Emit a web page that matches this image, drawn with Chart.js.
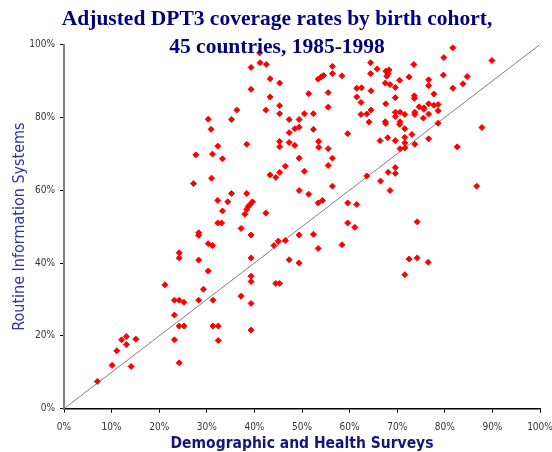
<!DOCTYPE html>
<html>
<head>
<meta charset="utf-8">
<script src="https://cdn.jsdelivr.net/npm/chart.js@4.4.1/dist/chart.umd.min.js"></script>
<style>
  html, body { margin: 0; padding: 0; background: #fff; }
  #wrap { width: 552px; height: 452px; }
</style>
</head>
<body>
<div id="wrap"><canvas id="dptChart" width="552" height="452"></canvas></div>
<script>
// DPT3 coverage per birth cohort: survey estimate (x) vs routine reports (y), in %
const dhsCoverage = [
    24.2, 24.2, 28.3, 30.3, 21.2, 29.3, 23.2, 24.2, 25.2, 28.3, 31.3, 37.2, 23.2, 24.2,
    25.2, 31.3, 32.4, 23.2, 32.4, 24.2, 13.1, 12.1, 15.1, 13.1, 11.1, 10.1, 14.1, 7.0,
    41.1, 39.3, 41.2, 42.5, 43.3, 45.3, 39.3, 43.3, 45.3, 42.4, 45.3, 36.3, 30.3, 35.2,
    30.9, 32.3, 31.2, 27.7, 33.3, 31.0, 27.2, 38.4, 45.3, 45.3, 47.3, 48.5, 47.3, 49.4,
    50.5, 52.4, 47.3, 48.5, 49.4, 52.4, 46.5, 49.4, 50.5, 45.3, 43.3, 44.5, 49.4, 53.4,
    54.5, 54.0, 56.4, 56.4, 58.4, 51.4, 55.5, 55.5, 59.6, 53.5, 53.5, 55.5, 56.4, 55.5,
    56.4, 61.5, 61.5,
    35.2, 38.4, 32.3, 34.4, 33.3, 39.6, 39.1, 38.7, 38.4, 38.0, 42.4, 32.3, 33.1, 37.2,
    39.3, 28.3, 28.3, 30.3, 31.2, 39.3, 39.3, 39.3, 39.3, 39.3, 44.1, 45.0, 46.5, 47.3,
    49.4, 44.5, 45.3, 51.4, 53.4, 54.3, 49.4, 52.4, 53.4, 58.4, 59.6, 61.5, 59.6, 61.1,
    81.7, 79.8, 89.9, 64.4, 65.8, 73.5, 64.4, 67.6, 68.3, 68.1, 67.8, 70.5, 72.5, 67.5,
    68.5, 69.6, 79.7, 76.6, 76.6, 84.7, 83.8, 81.7, 62.5, 64.5, 62.4, 67.6, 69.6, 73.6,
    73.6, 77.7, 62.4, 63.6, 64.5, 64.1, 69.6, 70.6, 71.6, 69.6, 73.7, 73.7, 74.6, 75.6,
    75.6, 76.6, 77.7, 78.6, 78.6, 76.6, 75.5, 67.5, 67.6, 70.6, 70.5, 71.6, 78.6, 68.0,
    66.4, 69.6, 71.6, 73.1, 71.6, 73.7, 70.6, 71.6, 76.6, 82.6, 87.8, 63.6, 66.5, 68.1,
    69.6, 69.6, 68.5, 86.7, 74.2, 72.5, 74.2, 76.5, 71.6
];
const risCoverage = [
    42.8, 41.4, 40.8, 37.8, 34.0, 32.8, 29.8, 29.8, 29.2, 29.8, 29.8, 30.9, 25.7, 22.7,
    22.7, 22.7, 22.7, 18.9, 18.7, 12.6, 19.8, 18.9, 19.1, 17.6, 15.9, 11.9, 11.6, 7.5,
    97.7, 93.7, 95.0, 94.5, 90.6, 89.4, 87.7, 85.6, 83.2, 82.0, 81.0, 82.0, 79.5, 79.4,
    76.7, 72.1, 69.9, 69.7, 68.6, 63.3, 61.8, 72.6, 73.4, 71.9, 73.1, 72.3, 79.4, 79.4,
    81.0, 81.0, 75.8, 76.9, 77.3, 76.7, 66.6, 68.8, 65.2, 64.9, 64.2, 63.5, 59.9, 90.5,
    91.5, 91.1, 94.0, 92.0, 91.4, 86.5, 86.8, 82.8, 75.5, 73.4, 71.8, 71.4, 68.8, 66.8,
    61.1, 88.0, 85.6,
    59.1, 59.1, 57.2, 56.8, 54.3, 56.8, 56.1, 55.5, 54.7, 53.4, 53.7, 51.0, 51.0, 49.5,
    47.7, 48.3, 47.6, 45.3, 44.8, 41.4, 28.9, 36.4, 34.9, 21.6, 44.8, 46.0, 46.2, 40.9,
    40.0, 34.4, 34.4, 58.9, 56.5, 57.2, 47.7, 47.9, 44.0, 45.0, 56.5, 56.1, 51.0, 49.8,
    99.1, 96.4, 95.6, 95.0, 93.3, 94.5, 92.0, 92.7, 93.0, 92.0, 91.3, 90.2, 91.1, 89.4,
    89.0, 88.2, 91.6, 90.3, 88.7, 91.2, 89.2, 88.0, 88.1, 87.3, 84.1, 83.7, 85.4, 85.9,
    85.2, 86.4, 80.8, 80.9, 82.0, 78.7, 81.4, 81.4, 80.8, 80.2, 81.4, 80.8, 82.9, 82.6,
    82.2, 83.7, 83.3, 83.5, 81.8, 80.9, 79.8, 78.8, 78.3, 78.8, 78.1, 76.9, 78.4, 74.4,
    73.6, 73.6, 74.5, 75.3, 73.0, 72.6, 71.4, 71.6, 74.1, 71.9, 77.2, 63.9, 62.5, 64.9,
    66.2, 64.6, 59.9, 61.1, 51.3, 41.1, 41.4, 40.2, 36.8
];
const diagonal = [0, 100];
const titleLines = ['Adjusted DPT3 coverage rates by birth cohort,', '45 countries, 1985-1998'];
const xAxisTitle = 'Demographic and Health Surveys';
const yAxisTitle = 'Routine Information Systems';

const narrow = "'Liberation Sans Narrow', 'Arial Narrow', 'DejaVu Sans Condensed', sans-serif";

// title overlaps the top of the plot, so draw it by hand
const overlayTitle = {
    id: 'overlayTitle',
    afterDraw(chart) {
        const ctx = chart.ctx;
        ctx.save();
        ctx.font = "bold 21.5px 'Liberation Serif', 'Times New Roman', serif";
        ctx.fillStyle = '#000080';
        ctx.textAlign = 'center';
        ctx.fillText(titleLines[0], chart.width / 2 + 1, 25);
        ctx.fillText(titleLines[1], chart.width / 2 + 1, 52.5);
        ctx.restore();
    }
};

const points = dhsCoverage.map((x, i) => ({ x: x, y: risCoverage[i] }));

new Chart(document.getElementById('dptChart'), {
    type: 'scatter',
    data: {
        datasets: [{
            data: points,
            pointStyle: 'rectRot',
            pointRadius: 3,
            borderWidth: 1,
            borderColor: '#ff0000',
            backgroundColor: '#ff0000'
        }, {
            type: 'line',
            data: diagonal.map(v => ({ x: v, y: v })),
            borderColor: '#808080',
            borderWidth: 1,
            pointRadius: 0,
            fill: false
        }]
    },
    options: {
        responsive: false,
        animation: false,
        layout: { padding: { top: 44.5, right: 12, bottom: 0, left: 0 } },
        plugins: {
            legend: { display: false },
            tooltip: { enabled: false }
        },
        scales: {
            x: {
                type: 'linear',
                min: 0,
                max: 100,
                afterFit: s => { s.height = 43.3; s.paddingLeft = 0; s.paddingRight = 0; },
                ticks: {
                    stepSize: 10,
                    maxRotation: 0,
                    padding: 9,
                    color: '#333',
                    font: { family: narrow, size: 10 },
                    callback: v => v + '%'
                },
                grid: { drawOnChartArea: false, tickLength: 4, color: '#000' },
                border: { color: '#000', width: 1.5 },
                title: {
                    display: true,
                    text: xAxisTitle,
                    color: '#14147a',
                    font: { family: narrow, size: 15.5, weight: 'bold', lineHeight: 1 },
                    padding: { top: 0, bottom: 0.5 }
                }
            },
            y: {
                min: 0,
                max: 100,
                afterFit: s => { s.width = 64; s.paddingTop = 0; s.paddingBottom = 0; },
                ticks: {
                    stepSize: 20,
                    padding: 5,
                    color: '#333',
                    font: { family: narrow, size: 10 },
                    callback: v => v + '%'
                },
                grid: { drawOnChartArea: false, tickLength: 4, color: '#000' },
                border: { color: '#808080', width: 2 },
                title: {
                    display: true,
                    text: yAxisTitle,
                    color: '#3333a0',
                    font: { family: narrow, size: 16, lineHeight: 1 },
                    padding: { top: 12, bottom: 0 }
                }
            }
        }
    },
    plugins: [overlayTitle]
});
</script>
</body>
</html>
